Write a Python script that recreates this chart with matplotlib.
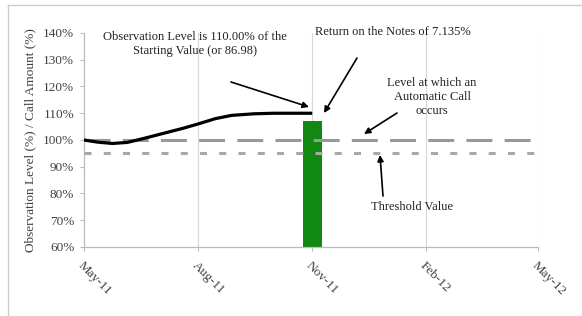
import matplotlib
matplotlib.use('Agg')
import matplotlib.pyplot as plt
import matplotlib.transforms as mtransforms
from matplotlib.lines import Line2D
import datetime as dt

plt.rcParams['font.family'] = ['Liberation Serif', 'DejaVu Serif']

# observation level path (% of starting value)
obs_dates = ['2011-05-01', '2011-05-12', '2011-05-24', '2011-06-05', '2011-06-20',
             '2011-07-05', '2011-07-20', '2011-08-01', '2011-08-15', '2011-08-28',
             '2011-09-15', '2011-10-01', '2011-10-15', '2011-11-01']
obs_level = [100.0, 99.2, 98.7, 99.1, 100.8, 102.6, 104.4, 106.0, 108.0, 109.2,
             109.8, 110.0, 110.0, 110.0]

call_date = '2011-11-01'
call_amount = 107.135
call_level = 100.0
threshold = 95.0

tick_dates = ['2011-05-01', '2011-08-01', '2011-11-01', '2012-02-01', '2012-05-01']
tick_labels = ['May-11', 'Aug-11', 'Nov-11', 'Feb-12', 'May-12']
y_ticks = [60, 70, 80, 90, 100, 110, 120, 130, 140]

to_d = lambda s: dt.datetime.strptime(s, '%Y-%m-%d')
xd = [to_d(s) for s in obs_dates]
td = [to_d(s) for s in tick_dates]

fig = plt.figure(figsize=(5.82, 3.16), dpi=100)
ax = fig.add_axes([84 / 582, 1 - 247 / 316, 454 / 582, 214 / 316])

ax.set_xlim(td[0], td[-1])
ax.set_ylim(60, 140)

for d in td[1:]:
    ax.axvline(d, color='#d8d8d8', lw=0.8, zorder=0)

ax.bar(to_d(call_date), call_amount - 60, bottom=60, width=15, color='#118811', zorder=2)

ax.plot([td[0], td[-1]], [call_level, call_level], color='#999999', lw=2.2,
        dashes=(8.5, 4), zorder=3)
ax.plot([td[0], td[-1]], [threshold, threshold], color='#a8a8a8', lw=2.2,
        dashes=(2.3, 4), zorder=3)
ax.plot(xd, obs_level, color='black', lw=2.3, zorder=4, solid_capstyle='butt')

for s in ['top', 'right']:
    ax.spines[s].set_visible(False)
for s in ['left', 'bottom']:
    ax.spines[s].set_color('#bbbbbb')
    ax.spines[s].set_linewidth(0.9)

ax.set_yticks(y_ticks)
ax.set_yticklabels([f'{v}%' for v in y_ticks], fontsize=9.5, color='#404040')
ax.set_xticks(td)
ax.set_xticklabels(tick_labels, fontsize=9.5, color='#404040', rotation=-45,
                   ha='left', va='top', rotation_mode='anchor')
shift = mtransforms.ScaledTranslation(4 / 100, -2 / 100, fig.dpi_scale_trans)
for lab in ax.get_xticklabels():
    lab.set_transform(lab.get_transform() + shift)
ax.tick_params(axis='both', color='#bbbbbb', length=3, width=0.8)
ax.tick_params(axis='x', pad=6)
ax.tick_params(axis='y', pad=4)
ax.set_ylabel('Observation Level (%) / Call Amount (%)', fontsize=9.5, color='#404040',
              labelpad=5)

tk = dict(fontsize=9, color='#222222', ha='center', va='center',
          xycoords='figure pixels', textcoords='figure pixels')
arr = dict(arrowstyle='-|>', color='black', lw=1.2, mutation_scale=9, shrinkA=0, shrinkB=0)

def fp(x, y):
    return (x, 316 - y)

def note(text, pos, tail, head):
    ax.annotate(text, xy=fp(*pos), xytext=fp(*pos), **tk)
    ax.annotate('', xy=fp(*head), xytext=fp(*tail), arrowprops=arr,
                xycoords='figure pixels', textcoords='figure pixels')

note('Observation Level is 110.00% of the\nStarting Value (or 86.98)', (195, 44),
     (231, 82), (309, 107))
note('Return on the Notes of 7.135%', (393, 32), (357, 58), (324, 113))
note('Level at which an\nAutomatic Call\noccurs', (432, 97), (397, 113), (364, 134))
note('Threshold Value', (412, 207), (383, 196), (380, 155))

# outer frame (left/top edges visible)
fig.add_artist(Line2D([8 / 582, 8 / 582], [0, 1 - 5 / 316], transform=fig.transFigure,
                      color='#cccccc', lw=1))
fig.add_artist(Line2D([8 / 582, 1], [1 - 5 / 316, 1 - 5 / 316], transform=fig.transFigure,
                      color='#cccccc', lw=1))

fig.savefig('out.png', dpi=100)
